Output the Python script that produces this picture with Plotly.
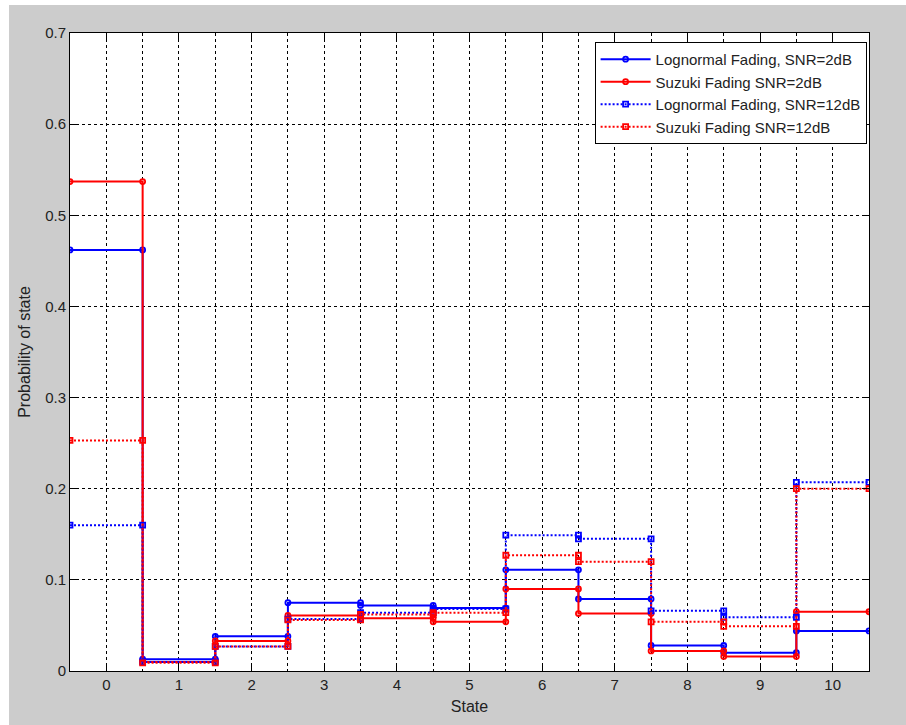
import plotly.graph_objects as go

states = list(range(11))
lognormal_2db = [0.462, 0.013, 0.038, 0.075, 0.072, 0.069, 0.111, 0.079, 0.028, 0.020, 0.044]
suzuki_2db = [0.537, 0.010, 0.033, 0.061, 0.058, 0.054, 0.090, 0.063, 0.022, 0.016, 0.065]
lognormal_12db = [0.160, 0.010, 0.027, 0.057, 0.064, 0.068, 0.149, 0.145, 0.066, 0.059, 0.207]
suzuki_12db = [0.253, 0.009, 0.027, 0.056, 0.062, 0.064, 0.127, 0.120, 0.054, 0.049, 0.200]

series = [
    ("Lognormal Fading, SNR=2dB", lognormal_2db, "#0000ff", "solid", "circle-open"),
    ("Suzuki Fading SNR=2dB", suzuki_2db, "#ff0000", "solid", "circle-open"),
    ("Lognormal Fading, SNR=12dB", lognormal_12db, "#0000ff", "2px,2px", "square-open"),
    ("Suzuki Fading SNR=12dB", suzuki_12db, "#ff0000", "2px,2px", "square-open"),
]


def stairs(xs, ys):
    # vertices of a stairs plot: each state spans [x-0.5, x+0.5]
    px, py = [], []
    for i, (x, y) in enumerate(zip(xs, ys)):
        px += [x - 0.5, x + 0.5]
        py += [y, y]
    return px, py


FONT = "Liberation Sans, Arial, sans-serif"
fig = go.Figure()
for i, (name, vals, color, dash, sym) in enumerate(series):
    sx, sy = stairs(states, vals)
    fig.add_trace(go.Scatter(
        x=sx, y=sy, mode="lines+markers", name=name,
        legendgroup=str(i),
        line=dict(color=color, width=2, dash=dash),
        marker=dict(symbol=sym, size=5, color=color, line=dict(color=color, width=1.8)),
    ))

axis_common = dict(
    showline=True, linecolor="black", linewidth=1, mirror="ticks",
    ticks="inside", ticklen=6, tickcolor="black", tickwidth=1,
    showgrid=True, gridcolor="black", gridwidth=1, griddash="3px,3px",
    zeroline=False, tickfont=dict(family=FONT, size=15, color="#222"),
)

fig.update_xaxes(
    range=[-0.5, 10.5], tickmode="array", tickvals=states,
    ticktext=[str(s) for s in states],
    minor=dict(dtick=0.5, tick0=0.5, showgrid=True, gridcolor="black", griddash="3px,3px", gridwidth=1, ticks=""),
    title=dict(text="State", font=dict(family=FONT, size=16, color="#222"), standoff=8),
    **axis_common,
)
fig.update_yaxes(
    range=[0, 0.7], tickmode="array", tickvals=[0, 0.1, 0.2, 0.3, 0.4, 0.5, 0.6, 0.7],
    ticktext=["0", "0.1", "0.2", "0.3", "0.4", "0.5", "0.6", "0.7"],
    title=dict(text="Probability of state", font=dict(family=FONT, size=16, color="#222"), standoff=10),
    **axis_common,
)

fig.update_layout(
    width=906, height=725,
    margin=dict(l=70, r=37, t=33, b=54),
    paper_bgcolor="#cccccc", plot_bgcolor="white",
    showlegend=True,
    legend=dict(
        x=0.997, y=0.986, xanchor="right", yanchor="top",
        bgcolor="white", bordercolor="black", borderwidth=1,
        font=dict(family=FONT, size=15, color="#222"),
        traceorder="normal", tracegroupgap=2, itemwidth=50,
    ),
    shapes=[
        dict(type="rect", xref="paper", yref="paper", x0=-0.1, x1=-0.0763, y0=-0.2, y1=1.1,
             fillcolor="white", line=dict(width=0), layer="below"),
        dict(type="rect", xref="paper", yref="paper", x0=-0.1, x1=1.1, y0=1.0439, y1=1.1,
             fillcolor="white", line=dict(width=0), layer="below"),
    ],
)

fig.write_html("out.html")
